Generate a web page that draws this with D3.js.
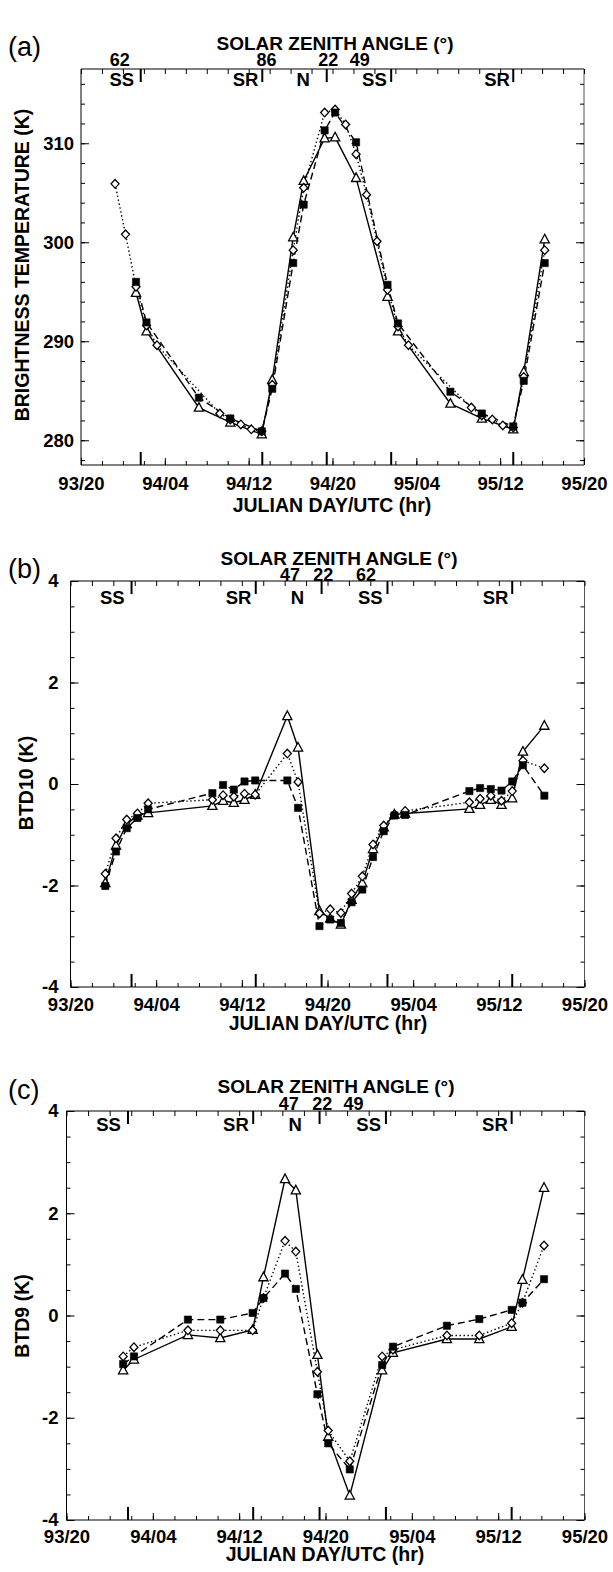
<!DOCTYPE html>
<html><head><meta charset="utf-8">
<script src="https://cdn.jsdelivr.net/npm/d3@7"></script>
<style>
body{margin:0;background:#fff}
svg{display:block}
text{font-family:"Liberation Sans",Arial,Helvetica,sans-serif}
</style>
</head><body>
<svg id="chart" width="613" height="1572"></svg>
<script>
// ---------------- DATA ----------------
const xTickHours  = [0, 8, 16, 24, 32, 40, 48];
const xTickLabels = ["93/20","94/04","94/12","94/20","95/04","95/12","95/20"];

const eventTimes     = [5.7, 17.3, 23.45, 29.6, 41.25];
const eventLabels    = ["SS","SR","N","SS","SR"];
const eventLabelPos  = [3.9, 15.7, 21.2, 28.0, 39.7];

// Panel (a) brightness temperature (K)
const aTimesDense = [3.25,4.25,5.25,6.25,7.25,13.25,14.25,15.25,16.25,17.25,18.25,20.25,21.25,23.25,24.25,25.25,26.25,27.25,28.25,29.25,30.25,31.25,37.25,38.25,39.25,40.25,41.25,42.25,44.25];
const aDiamond = [305.9,300.8,295.5,291.6,289.6,282.7,282.1,281.6,281.1,280.9,285.6,299.2,305.5,313.1,313.4,311.9,308.9,304.8,300.1,295.2,291.5,289.6,283.3,282.5,282.1,281.5,281.3,286.4,299.2];
const aTimes = [5.25,6.25,11.25,14.25,17.25,18.25,20.25,21.25,23.25,24.25,26.25,29.25,30.25,35.25,38.25,41.25,42.25,44.25];
const aSquare   = [296.0,291.9,284.3,282.2,280.9,285.2,297.9,303.8,311.3,313.1,310.1,295.7,291.8,284.9,282.7,281.4,286.0,297.9];
const aTriangle = [294.9,291.0,283.3,281.8,280.6,286.1,300.5,306.2,310.5,310.6,306.5,294.5,291.0,283.7,282.2,281.1,286.9,300.3];
const aYTicks = [280, 290, 300, 310];
const aAngleLabels = ["62","86","22","49"];
const aAnglePos    = [3.7, 17.7, 23.6, 26.6];

// Panel (b) BTD10 (K)
const bTimes = [3.25,4.25,5.25,6.25,7.25,13.25,14.25,15.25,16.25,17.25,20.25,21.25,23.25,24.25,25.25,26.25,27.25,28.25,29.25,30.25,31.25,37.25,38.25,39.25,40.25,41.25,42.25,44.25];
const bDiamond  = [-1.77,-1.07,-0.70,-0.58,-0.38,-0.31,-0.22,-0.25,-0.19,-0.21,0.60,0.04,-2.55,-2.47,-2.54,-2.16,-1.82,-1.19,-0.82,-0.60,-0.53,-0.36,-0.29,-0.23,-0.33,-0.14,0.46,0.31];
const bSquare   = [-2.01,-1.33,-0.87,-0.67,-0.50,-0.18,-0.02,-0.11,0.05,0.07,0.07,-0.47,-2.80,-2.67,-2.74,-2.33,-2.08,-1.44,-0.93,-0.62,-0.61,-0.14,-0.08,-0.10,-0.13,0.05,0.37,-0.23];
const bTriangle = [-1.95,-1.21,-0.79,-0.62,-0.57,-0.43,-0.33,-0.37,-0.31,-0.21,1.34,0.72,-2.50,-2.65,-2.77,-2.28,-1.95,-1.28,-0.85,-0.60,-0.58,-0.49,-0.41,-0.31,-0.41,-0.28,0.64,1.15];
const bYTicks = [-4, -2, 0, 2, 4];
const bAngleLabels = ["47","22","62"];
const bAnglePos    = [20.5, 23.6, 27.6];

// Panel (c) BTD9 (K)
const cTimes = [5.25,6.25,11.25,14.25,17.25,18.25,20.25,21.25,23.25,24.25,26.25,29.25,30.25,35.25,38.25,41.25,42.25,44.25];
const cTriangle = [-1.07,-0.86,-0.38,-0.44,-0.28,0.75,2.67,2.45,-0.77,-2.37,-3.52,-1.07,-0.73,-0.46,-0.46,-0.22,0.70,2.50];
const cDiamond  = [-0.80,-0.62,-0.29,-0.29,-0.29,0.34,1.46,1.25,-1.10,-2.25,-2.85,-0.80,-0.67,-0.39,-0.39,-0.15,0.25,1.37];
const cSquare   = [-0.95,-0.80,-0.08,-0.08,0.05,0.34,0.82,0.52,-1.54,-2.50,-3.01,-0.97,-0.61,-0.20,-0.07,0.11,0.25,0.71];
const cYTicks = [-4, -2, 0, 2, 4];
const cAngleLabels = ["47","22","49"];
const cAnglePos    = [20.6, 23.7, 26.6];

// ---------------- DRAW ----------------
const svg = d3.select("#chart");
svg.append("rect").attr("width",613).attr("height",1572).attr("fill","#fff");

const zip = (t, v) => t.map((h, i) => [h, v[i]]);
const hyphenFmt = d => String(d);

function drawPanel(cfg) {
  const x = d3.scaleLinear().domain([0, 48]).range([cfg.x0, cfg.x1]);
  const y = d3.scaleLinear().domain(cfg.domain).range([cfg.y1, cfg.y0]);
  const g = svg.append("g");

  // frame
  g.append("line").attr("x1",cfg.x0).attr("x2",cfg.x1).attr("y1",cfg.y0).attr("y2",cfg.y0).attr("stroke","#000").attr("stroke-width",1);
  g.append("line").attr("x1",cfg.x0).attr("x2",cfg.x1).attr("y1",cfg.y1).attr("y2",cfg.y1).attr("stroke","#000").attr("stroke-width",1);
  g.append("line").attr("x1",cfg.x0).attr("x2",cfg.x0).attr("y1",cfg.y0).attr("y2",cfg.y1).attr("stroke","#000").attr("stroke-width",1);
  g.append("line").attr("x1",cfg.x1).attr("x2",cfg.x1).attr("y1",cfg.y0).attr("y2",cfg.y1).attr("stroke","#555").attr("stroke-width",1);

  const styleAxis = sel => { sel.select(".domain").remove(); sel.selectAll("line").attr("stroke","#000"); };

  // bottom axis: major with labels, minor every 2 h
  g.append("g").attr("transform",`translate(0,${cfg.y1})`)
    .call(d3.axisBottom(x).tickValues(xTickHours).tickFormat((d,i)=>xTickLabels[i]).tickSize(-7).tickPadding(cfg.xPad))
    .call(styleAxis)
    .call(s => s.selectAll("text").attr("font-size",18.5).attr("font-weight","bold").attr("fill","#000"));
  g.append("g").attr("transform",`translate(0,${cfg.y1})`)
    .call(d3.axisBottom(x).tickValues(d3.range(0,49,2)).tickFormat("").tickSize(-4))
    .call(styleAxis);
  // top axis minor ticks
  g.append("g").attr("transform",`translate(0,${cfg.y0})`)
    .call(d3.axisTop(x).tickValues(d3.range(0,49,2)).tickFormat("").tickSize(-5))
    .call(styleAxis);

  // left axis
  g.append("g").attr("transform",`translate(${cfg.x0},0)`)
    .call(d3.axisLeft(y).tickValues(cfg.yTicks).tickFormat(hyphenFmt).tickSize(-8).tickPadding(cfg.yPad))
    .call(styleAxis)
    .call(s => s.selectAll("text").attr("font-size",18.5).attr("font-weight","bold").attr("fill","#000"));
  g.append("g").attr("transform",`translate(${cfg.x0},0)`)
    .call(d3.axisLeft(y).tickValues(d3.range(cfg.minorStart, cfg.domain[1], cfg.minor)).tickFormat("").tickSize(-4))
    .call(styleAxis);
  // right axis
  g.append("g").attr("transform",`translate(${cfg.x1},0)`)
    .call(d3.axisRight(y).tickValues(cfg.yTicks).tickFormat("").tickSize(-8))
    .call(styleAxis);
  g.append("g").attr("transform",`translate(${cfg.x1},0)`)
    .call(d3.axisRight(y).tickValues(d3.range(cfg.minorStart, cfg.domain[1], cfg.minor)).tickFormat("").tickSize(-4))
    .call(styleAxis);

  // event ticks (sunset / sunrise / noon)
  eventTimes.forEach(t => {
    g.append("line").attr("x1",x(t)).attr("x2",x(t)).attr("y1",cfg.y0).attr("y2",cfg.y0+13).attr("stroke","#000").attr("stroke-width",2);
    g.append("line").attr("x1",x(t)).attr("x2",x(t)).attr("y1",cfg.y1).attr("y2",cfg.y1-13).attr("stroke","#000").attr("stroke-width",2);
  });
  eventLabels.forEach((l, i) => {
    g.append("text").attr("x",x(eventLabelPos[i])).attr("y",cfg.evY).attr("text-anchor","middle")
      .attr("font-size",18.5).attr("font-weight","bold").text(l);
  });

  // top titles
  g.append("text").attr("x",cfg.titleX).attr("y",cfg.titleY).attr("text-anchor","middle")
    .attr("font-size",19).attr("font-weight","bold").text("SOLAR ZENITH ANGLE (°)");
  cfg.angles.forEach((l, i) => {
    g.append("text").attr("x",x(cfg.anglePos[i])).attr("y",cfg.angleY[i]).attr("text-anchor","middle")
      .attr("font-size",18).attr("font-weight","bold").text(l);
  });
  // panel letter
  g.append("text").attr("x",8).attr("y",cfg.letterY).attr("font-size",27).text(cfg.letter);
  // x title
  g.append("text").attr("x",cfg.xTitleX).attr("y",cfg.xTitleY).attr("text-anchor","middle")
    .attr("font-size",19.5).attr("font-weight","bold").text("JULIAN DAY/UTC (hr)");
  // y title
  g.append("text").attr("transform",`translate(${cfg.yTitleX},${cfg.yTitleY}) rotate(-90)`)
    .attr("text-anchor","middle").attr("dy","0.36em")
    .attr("font-size",19.5).attr("font-weight","bold").text(cfg.yTitle);

  // series lines
  const line = d3.line().x(d => x(d[0])).y(d => y(d[1]));
  const series = [
    {data: cfg.tri, dash: null, mark: "tri"},
    {data: cfg.dia, dash: "1.4,2.6", mark: "dia"},
    {data: cfg.sq,  dash: "7,4", mark: "sq"}
  ];
  series.forEach(s => {
    g.append("path").datum(s.data).attr("d", line).attr("fill","none")
      .attr("stroke","#000").attr("stroke-width",1.4)
      .attr("stroke-dasharray", s.dash);
  });
  series.forEach(s => {
    const m = g.append("g").selectAll("path").data(s.data).join("path")
      .attr("transform", d => `translate(${x(d[0])},${y(d[1])})`)
      .attr("stroke","#000").attr("stroke-width",1.3);
    if (s.mark === "tri") m.attr("d","M0,-5 L4.6,3.6 L-4.6,3.6 Z").attr("fill","#fff");
    if (s.mark === "dia") m.attr("d","M0,-4.3 L4,0 L0,4.3 L-4,0 Z").attr("fill","#fff");
    if (s.mark === "sq")  m.attr("d","M-3.6,-3.6 H3.6 V3.6 H-3.6 Z").attr("fill","#000").attr("stroke-width",0.6);
  });
}

drawPanel({
  letter:"(a)", letterY:56,
  x0:81, x1:584, y0:69, y1:465, domain:[277.5,317.5],
  yTicks:aYTicks, minor:2, minorStart:278, yPad:7, xPad:12,
  evY:86, titleX:335, titleY:50,
  angles:aAngleLabels, anglePos:aAnglePos, angleY:[66,66,66,66],
  xTitleX:332, xTitleY:512,
  yTitle:"BRIGHTNESS TEMPERATURE (K)", yTitleX:21.5, yTitleY:265,
  tri: zip(aTimes, aTriangle), dia: zip(aTimesDense, aDiamond), sq: zip(aTimes, aSquare)
});
drawPanel({
  letter:"(b)", letterY:578,
  x0:70.5, x1:584.5, y0:581, y1:987, domain:[-4,4],
  yTicks:bYTicks, minor:0.5, minorStart:-3.5, yPad:12, xPad:11,
  evY:604, titleX:339, titleY:565,
  angles:bAngleLabels, anglePos:bAnglePos, angleY:[581,581,581],
  xTitleX:328, xTitleY:1030,
  yTitle:"BTD10 (K)", yTitleX:26, yTitleY:783,
  tri: zip(bTimes, bTriangle), dia: zip(bTimes, bDiamond), sq: zip(bTimes, bSquare)
});
drawPanel({
  letter:"(c)", letterY:1099,
  x0:66.5, x1:584.5, y0:1111, y1:1520, domain:[-4,4],
  yTicks:cYTicks, minor:0.5, minorStart:-3.5, yPad:8, xPad:10,
  evY:1131, titleX:336, titleY:1093,
  angles:cAngleLabels, anglePos:cAnglePos, angleY:[1110,1110,1110],
  xTitleX:325, xTitleY:1561,
  yTitle:"BTD9 (K)", yTitleX:22, yTitleY:1316,
  tri: zip(cTimes, cTriangle), dia: zip(cTimes, cDiamond), sq: zip(cTimes, cSquare)
});
</script>
</body></html>
